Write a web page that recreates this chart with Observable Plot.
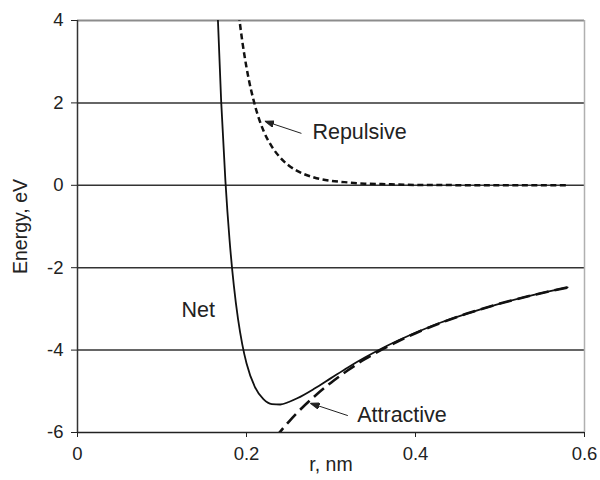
<!DOCTYPE html>
<html>
<head>
<meta charset="utf-8">
<script src="https://cdn.jsdelivr.net/npm/d3@7"></script>
<script src="https://cdn.jsdelivr.net/npm/@observablehq/plot@0.6"></script>
<style>
  body { margin: 0; background: #fff; }
  #chart svg { display: block; }
</style>
</head>
<body>
<div id="chart"></div>
<script>
// Interatomic separation (nm) and the energy terms at each separation (eV)
const r = [0.16, 0.165, 0.17, 0.175, 0.18, 0.185, 0.19, 0.195, 0.20, 0.21, 0.22, 0.23, 0.24, 0.25, 0.26, 0.28, 0.30, 0.32, 0.34, 0.36, 0.38, 0.40, 0.43, 0.46, 0.50, 0.54, 0.58];
const net = [8.07, 4.62, 2.05, 0.12, -1.34, -2.43, -3.25, -3.86, -4.32, -4.90, -5.19, -5.31, -5.32, -5.26, -5.17, -4.94, -4.68, -4.42, -4.18, -3.96, -3.76, -3.58, -3.33, -3.12, -2.87, -2.66, -2.48];
const repulsive = [17.04, 13.32, 10.49, 8.32, 6.64, 5.34, 4.31, 3.50, 2.86, 1.94, 1.33, 0.94, 0.67, 0.48, 0.35, 0.19, 0.11, 0.07, 0.04, 0.03, 0.02, 0.01, 0.01, 0.00, 0.00, 0.00, 0.00];
const attractive = [-8.98, -8.70, -8.45, -8.21, -7.98, -7.76, -7.56, -7.36, -7.18, -6.84, -6.53, -6.24, -5.98, -5.74, -5.52, -5.13, -4.79, -4.49, -4.22, -3.99, -3.78, -3.59, -3.34, -3.12, -2.87, -2.66, -2.48];

// Axis ticks
const xTicks = [0, 0.2, 0.4, 0.6];
const yTicks = [-6, -4, -2, 0, 2, 4];
const gridLines = [-4, -2, 0, 2];

// Curve labels and their pointer arrows
const labelText = ["Net", "Repulsive", "Attractive"];
const labelR = [0.123, 0.278, 0.331];
const labelE = [-3.03, 1.28, -5.59];
const arrowFromR = [0.265, 0.3199];
const arrowFromE = [1.26, -5.59];
const arrowToR = [0.2217, 0.2757];
const arrowToE = [1.556, -5.29];

const series = (vals) => r.map((x, i) => ({r: x, e: vals[i]}));
const labels = labelText.map((t, i) => ({t, r: labelR[i], e: labelE[i]}));
const arrows = arrowFromR.map((_, i) => ({
  r1: arrowFromR[i], e1: arrowFromE[i], r2: arrowToR[i], e2: arrowToE[i]
}));

// Small filled triangular arrowhead
const filledHead = (color, context) =>
  d3.create("svg:marker", context)
    .attr("viewBox", "0 0 9 7")
    .attr("markerWidth", 9)
    .attr("markerHeight", 7)
    .attr("markerUnits", "userSpaceOnUse")
    .attr("refX", 9)
    .attr("refY", 3.5)
    .attr("orient", "auto")
    .call((m) => m.append("path").attr("d", "M0,0.3L9,3.5L0,6.7Z").attr("fill", color))
    .node();

const font = "'Liberation Sans', Arial, Helvetica, sans-serif";

const chart = Plot.plot({
  width: 600,
  height: 480,
  marginLeft: 77,
  marginRight: 16,
  marginTop: 20,
  marginBottom: 48,
  x: {domain: [0, 0.6]},
  y: {domain: [-6, 4]},
  style: {fontFamily: font, fontSize: "18.5px", color: "#222", background: "#fff"},
  marks: [
    Plot.ruleY(gridLines, {stroke: "#333", strokeWidth: 1.5}),
    Plot.ruleY([4], {stroke: "#8c8c8c", strokeWidth: 2}),
    Plot.ruleX([0.6], {stroke: "#b0b0b0", strokeWidth: 1.5}),
    Plot.ruleX([0], {stroke: "#333", strokeWidth: 1.5}),
    Plot.ruleY([-6], {stroke: "#222", strokeWidth: 1.5}),
    Plot.axisX(xTicks, {tickSize: 5, tickPadding: 9, tickFormat: (d) => String(d), label: null, stroke: "#222", fontSize: 18.5}),
    Plot.axisY(yTicks, {tickSize: 6, tickPadding: 8, tickFormat: (d) => String(d), label: null, stroke: "#222", fontSize: 18.5}),
    Plot.line(series(net), {x: "r", y: "e", stroke: "#111", strokeWidth: 1.8, curve: "monotone-x", clip: true}),
    Plot.line(series(attractive), {x: "r", y: "e", stroke: "#111", strokeWidth: 2.6, strokeDasharray: "13,6", strokeLinecap: "butt", curve: "monotone-x", clip: true}),
    Plot.line(series(repulsive), {x: "r", y: "e", stroke: "#111", strokeWidth: 2.5, strokeDasharray: "6,3.5", strokeLinecap: "butt", curve: "monotone-x", clip: true}),
    Plot.link(arrows, {x1: "r1", y1: "e1", x2: "r2", y2: "e2", stroke: "#222", strokeWidth: 1, markerEnd: filledHead}),
    Plot.text(labels, {x: "r", y: "e", text: "t", textAnchor: "start", fontSize: 21.5, fill: "#222"}),
    Plot.text(["Energy, eV"], {text: (d) => d, frameAnchor: "left", textAnchor: "middle", dx: -57, rotate: -90, fontSize: 19.5, fill: "#222"}),
    Plot.text(["r, nm"], {text: (d) => d, frameAnchor: "bottom", dy: 38, fontSize: 19.5, fill: "#222"})
  ]
});

document.getElementById("chart").appendChild(chart);
</script>
</body>
</html>
